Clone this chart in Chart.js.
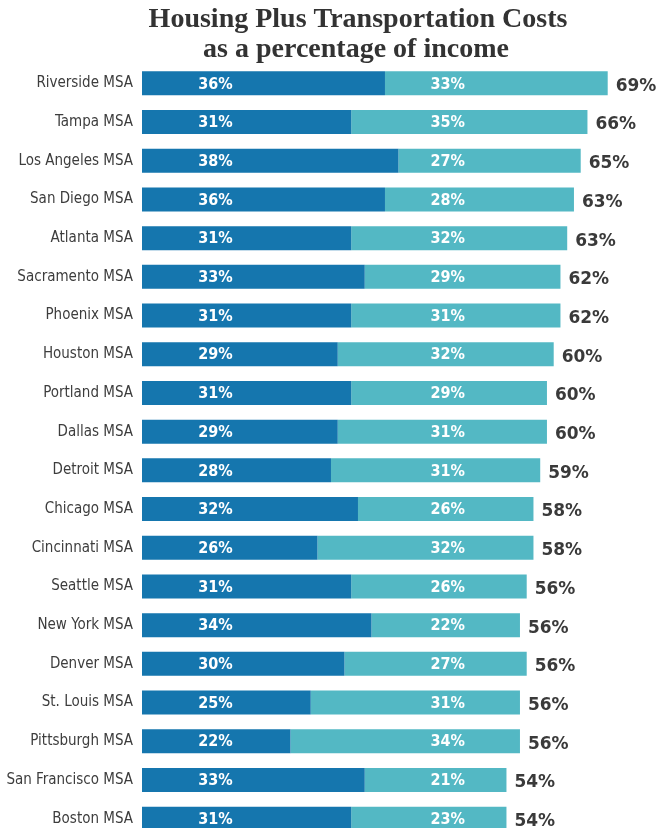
<!DOCTYPE html>
<html>
<head>
<meta charset="utf-8">
<script src="https://cdn.jsdelivr.net/npm/chart.js@4/dist/chart.umd.min.js"></script>
<style>
  html, body { margin: 0; padding: 0; background: #fff; overflow: hidden; }
  canvas { display: block; }
</style>
</head>
<body>
<canvas id="chart" width="668" height="856"></canvas>
<script>
const cities = [
  'Riverside MSA', 'Tampa MSA', 'Los Angeles MSA', 'San Diego MSA', 'Atlanta MSA',
  'Sacramento MSA', 'Phoenix MSA', 'Houston MSA', 'Portland MSA', 'Dallas MSA',
  'Detroit MSA', 'Chicago MSA', 'Cincinnati MSA', 'Seattle MSA', 'New York MSA',
  'Denver MSA', 'St. Louis MSA', 'Pittsburgh MSA', 'San Francisco MSA', 'Boston MSA'
];
const housing = [36, 31, 38, 36, 31, 33, 31, 29, 31, 29, 28, 32, 26, 31, 34, 30, 25, 22, 33, 31];
const transport = [33, 35, 27, 28, 32, 29, 31, 32, 29, 31, 31, 26, 32, 26, 22, 27, 31, 34, 21, 23];
const totals = [69, 66, 65, 63, 63, 62, 62, 60, 60, 60, 59, 58, 58, 56, 56, 56, 56, 56, 54, 54];
const titleLines = ['Housing Plus Transportation Costs', 'as a percentage of income'];

const narrow = "'Liberation Sans Narrow', 'DejaVu Sans Condensed', sans-serif";

// title + value labels drawn on top of the bars
const labelPlugin = {
  id: 'labels',
  afterDraw(chart) {
    const ctx = chart.ctx;
    const x = chart.scales.x, y = chart.scales.y;
    ctx.save();

    ctx.fillStyle = '#333';
    ctx.font = "bold 28px 'Liberation Serif', serif";
    ctx.textAlign = 'center';
    ctx.textBaseline = 'alphabetic';
    ctx.fillText(titleLines[0], 358, 27);
    ctx.fillText(titleLines[1], 356, 57);

    ctx.textBaseline = 'middle';
    cities.forEach((c, i) => {
      const yy = y.getPixelForValue(i) + 1;
      ctx.fillStyle = '#fff';
      ctx.font = 'bold 16px ' + narrow;
      ctx.textAlign = 'center';
      ctx.fillText(housing[i] + '%', x.getPixelForValue(10.9), yy);
      ctx.fillText(transport[i] + '%', x.getPixelForValue(45.3), yy);

      ctx.fillStyle = '#3a3a3a';
      ctx.font = "bold 17px 'DejaVu Sans', sans-serif";
      ctx.textAlign = 'left';
      ctx.fillText(totals[i] + '%', x.getPixelForValue(housing[i] + transport[i]) + 8, yy + 2);
    });
    ctx.restore();
  }
};

new Chart(document.getElementById('chart').getContext('2d'), {
  type: 'bar',
  data: {
    labels: cities,
    datasets: [{
      label: 'Housing',
      data: housing,
      backgroundColor: '#1576ae',
      barPercentage: 0.62,
      categoryPercentage: 1
    }, {
      label: 'Transportation',
      data: transport,
      backgroundColor: '#53b8c4',
      barPercentage: 0.62,
      categoryPercentage: 1
    }]
  },
  options: {
    indexAxis: 'y',
    responsive: false,
    animation: false,
    devicePixelRatio: 1,
    layout: { padding: { top: 64, right: 9, bottom: 5, left: 0 } },
    plugins: {
      legend: { display: false },
      title: { display: false },
      tooltip: { enabled: false }
    },
    scales: {
      x: {
        stacked: true,
        display: false,
        min: 0,
        max: 76.6
      },
      y: {
        stacked: true,
        grid: { display: false, drawTicks: false },
        border: { display: false },
        afterFit(scale) { scale.width = 142; },
        ticks: {
          padding: 9,
          color: '#3d3d3d',
          font: { family: narrow, size: 15 }
        }
      }
    }
  },
  plugins: [labelPlugin]
});
</script>
</body>
</html>
